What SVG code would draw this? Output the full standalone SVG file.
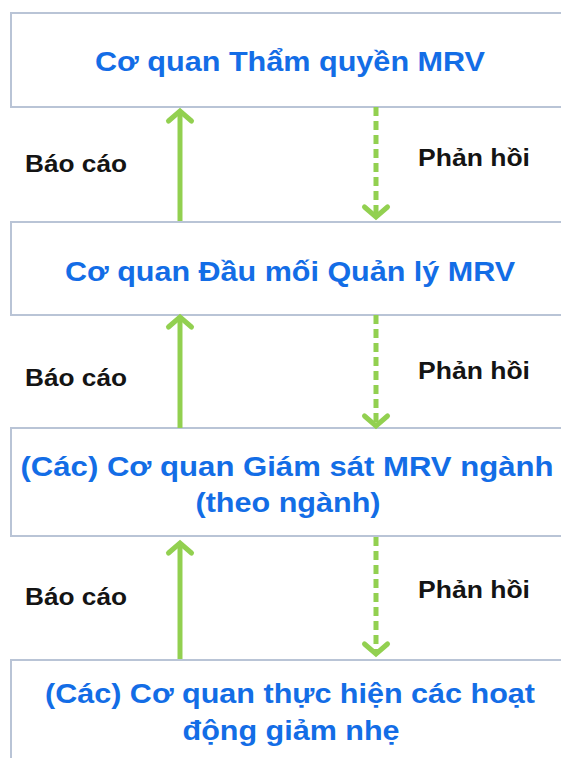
<svg xmlns="http://www.w3.org/2000/svg" width="561" height="758" viewBox="0 0 561 758">
  <style>
    .box { fill: #ffffff; stroke: #b9c4d6; stroke-width: 2; }
    .title { font-family: "Liberation Sans", Arial, sans-serif; font-weight: bold; font-size: 28px; fill: #136de6; text-anchor: middle; }
    .label { font-family: "Liberation Sans", Arial, sans-serif; font-weight: bold; font-size: 23px; fill: #141414; }
    .report { fill: none; stroke: #92d050; stroke-width: 5; }
    .feedback { fill: none; stroke: #92d050; stroke-width: 5; stroke-dasharray: 9 5; }
  </style>
  <defs>
    <marker id="chevron" markerUnits="userSpaceOnUse" markerWidth="30" markerHeight="30" viewBox="-15 -15 30 30" refX="0" refY="0" orient="auto" overflow="visible">
      <path d="M-10,-11.5 L0,0 L-10,11.5" fill="none" stroke="#92d050" stroke-width="5" stroke-linecap="round" stroke-linejoin="miter"/>
    </marker>
  </defs>

  <rect width="561" height="758" fill="#ffffff"/>

  <g id="node-authority">
    <rect class="box" x="11" y="13" width="560" height="94"/>
    <text class="title" x="290" y="71" textLength="390" lengthAdjust="spacingAndGlyphs">Cơ quan Thẩm quyền MRV</text>
  </g>

  <g id="node-focal">
    <rect class="box" x="11" y="222" width="560" height="93"/>
    <text class="title" x="290" y="281" textLength="450" lengthAdjust="spacingAndGlyphs">Cơ quan Đầu mối Quản lý MRV</text>
  </g>

  <g id="node-sector">
    <rect class="box" x="11" y="428" width="560" height="108"/>
    <text class="title" x="287" y="476" textLength="533" lengthAdjust="spacingAndGlyphs">(Các) Cơ quan Giám sát MRV ngành</text>
    <text class="title" x="288" y="512" textLength="185" lengthAdjust="spacingAndGlyphs">(theo ngành)</text>
  </g>

  <g id="node-mitigation">
    <rect class="box" x="11" y="660" width="560" height="120"/>
    <text class="title" x="290" y="703" textLength="490" lengthAdjust="spacingAndGlyphs">(Các) Cơ quan thực hiện các hoạt</text>
    <text class="title" x="291" y="740" textLength="217" lengthAdjust="spacingAndGlyphs">động giảm nhẹ</text>
  </g>

  <g id="connectors">
    <line class="report" x1="180" y1="221" x2="180" y2="111" marker-end="url(#chevron)"/>
    <line class="feedback" x1="376" y1="107" x2="376" y2="217" marker-end="url(#chevron)"/>
    <line class="report" x1="180" y1="428" x2="180" y2="317" marker-end="url(#chevron)"/>
    <line class="feedback" x1="376" y1="315" x2="376" y2="426" marker-end="url(#chevron)"/>
    <line class="report" x1="180" y1="659" x2="180" y2="543" marker-end="url(#chevron)"/>
    <line class="feedback" x1="376" y1="537" x2="376" y2="654" marker-end="url(#chevron)"/>
  </g>

  <g id="labels">
    <text class="label" x="25" y="172" textLength="102" lengthAdjust="spacingAndGlyphs">Báo cáo</text>
    <text class="label" x="418" y="166" textLength="112" lengthAdjust="spacingAndGlyphs">Phản hồi</text>
    <text class="label" x="25" y="386" textLength="102" lengthAdjust="spacingAndGlyphs">Báo cáo</text>
    <text class="label" x="418" y="379" textLength="112" lengthAdjust="spacingAndGlyphs">Phản hồi</text>
    <text class="label" x="25" y="605" textLength="102" lengthAdjust="spacingAndGlyphs">Báo cáo</text>
    <text class="label" x="418" y="598" textLength="112" lengthAdjust="spacingAndGlyphs">Phản hồi</text>
  </g>
</svg>
